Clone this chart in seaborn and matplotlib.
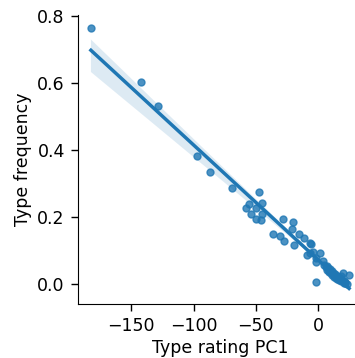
import numpy as np
import pandas as pd
import matplotlib
matplotlib.use("Agg")
import matplotlib.pyplot as plt
import seaborn as sns

# Type rating PC1 vs type frequency
pc1 = [
    -182.5, -142.4, -128.5, -97.0, -86.9, -69.2, -47.8, -55.3, -58.0, -50.0,
    -44.9, -54.2, -50.2, -45.7, -45.1, -28.0, -20.3, -36.0, -30.2, -27.5,
    -21.3, -15.7, -19.7, -11.2, -6.4, -5.8, -9.3, -6.7, -1.8, -1.3,
    1.9, 4.0, -4.0, -1.8, 24.9, 20.0,
    5.0, 6.0, 7.0, 7.5, 8.0, 9.0, 9.5, 10.0, 11.0, 11.5,
    12.0, 13.0, 13.5, 14.0, 15.0, 15.5, 16.0, 17.0, 17.5, 18.0,
    19.0, 20.5, 21.0, 22.0, 23.0,
    8.5, 12.5, 16.5, 19.5, 21.5, 18.5,
]
freq = [
    0.765, 0.604, 0.533, 0.382, 0.336, 0.288, 0.276, 0.240, 0.227, 0.227,
    0.242, 0.210, 0.195, 0.192, 0.210, 0.195, 0.184, 0.150, 0.143, 0.128,
    0.163, 0.150, 0.116, 0.136, 0.121, 0.118, 0.087, 0.092, 0.065, 0.006,
    0.092, 0.070, 0.095, 0.078, 0.028, 0.033,
    0.058, 0.050, 0.055, 0.043, 0.047, 0.037, 0.045, 0.032, 0.039, 0.027,
    0.033, 0.022, 0.029, 0.019, 0.025, 0.015, 0.021, 0.012, 0.017, 0.008,
    0.011, 0.004, 0.009, 0.002, 0.000,
    0.040, 0.030, 0.018, 0.013, 0.006, 0.024,
]

df = pd.DataFrame({"Type rating PC1": pc1, "Type frequency": freq})

plt.rcParams["font.family"] = ["DejaVu Sans"]

fig = plt.figure(figsize=(3.55, 3.58), dpi=100)
W, H = 355, 358
ax = fig.add_axes([78 / W, (H - 304) / H, (362 - 78) / W, (304 - 15) / H])

sns.regplot(data=df, x="Type rating PC1", y="Type frequency", ax=ax,
            color="#1f77b4", seed=0,
            scatter_kws={"s": 25}, line_kws={"linewidth": 2.5})
sns.despine(ax=ax)

ax.set_yticks([0.0, 0.2, 0.4, 0.6, 0.8])
ax.set_xticks([-150, -100, -50, 0])
ax.tick_params(labelsize=12.5, length=5, width=1.0, pad=4.5)
ax.set_xlabel("Type rating PC1", fontsize=12.5, labelpad=3)
ax.set_ylabel("Type frequency", fontsize=12.5, labelpad=4)

fig.savefig("out.png", dpi=100)
